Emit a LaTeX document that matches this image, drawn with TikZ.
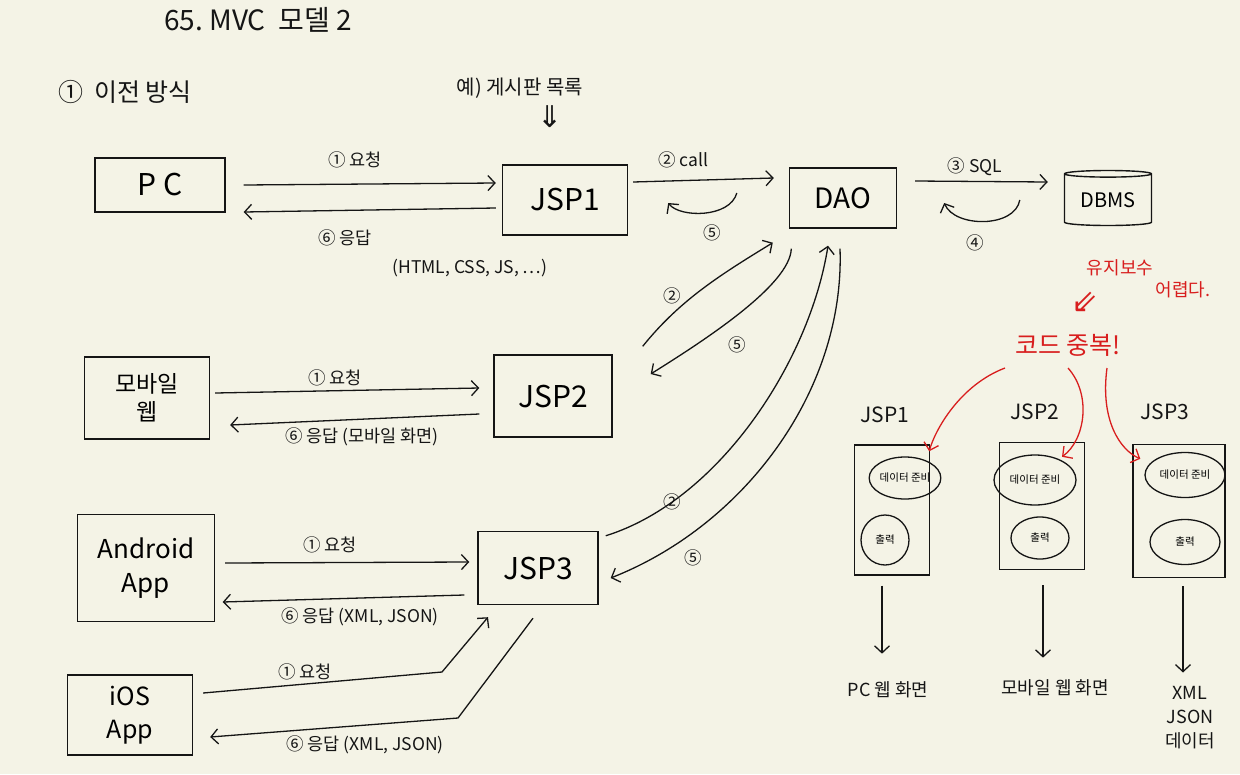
\documentclass[tikz,border=0pt]{standalone}
\usepackage{fontspec}
\setmainfont{Noto Sans CJK KR}
\newfontfamily\symf{DejaVu Sans}
\usetikzlibrary{arrows.meta,calc,shapes.geometric}
\definecolor{paper}{HTML}{F4F3E6}
\definecolor{ink}{HTML}{151515}
\definecolor{redc}{HTML}{D81E1E}
\newcommand\fs[2]{\fontsize{#1}{#2}\selectfont}
\tikzset{
  box/.style={draw=ink, line width=1.4pt, inner sep=0pt, align=center},
  oval/.style={draw=ink, line width=1.3pt, ellipse, inner sep=0pt, font=\fs{10.5}{13}},
  arr/.style={-{Straight Barb[length=7pt,width=15pt,line width=1.3pt]}, line width=1.3pt, draw=ink},
  rarr/.style={arr, draw=redc},
  lbl/.style={font=\fs{17.5}{21}, text=ink, inner sep=0pt},
  rlbl/.style={text=redc, inner sep=0pt},
}
\begin{document}
\begin{tikzpicture}[x=1pt,y=-1pt]
\fill[paper] (0,0) rectangle (1240,774);
\useasboundingbox (0,0) rectangle (1240,774);

% titles
\node[lbl, font=\fs{28}{32}] (title) at (258,20) {65.\ MVC\ \ 모델 2};
\node[lbl, font=\fs{25}{30}] (sec) at (125,92) {①\ \ 이전 방식};
\node[lbl, font=\fs{20}{24}] (ex) at (520,88) {예)\ 게시판 목록};
\node[lbl, font=\symf\fs{30}{32}] (dar) at (550,117) {⇓};

% left column boxes
\node[box, minimum width=130pt, minimum height=54pt, font=\fs{30}{34}] (pc) at (160,185) {P C};
\node[box, minimum width=125pt, minimum height=70pt, font=\fs{30}{34}] (jsp1) at (565,200) {JSP1};
\node[box, minimum width=107pt, minimum height=60pt, font=\fs{28}{32}] (dao) at (843,198) {DAO};
\node[box, shape=cylinder, shape border rotate=90, aspect=0.12, minimum width=87pt, minimum height=55pt, font=\fs{20}{24}] (dbms) at (1108,200) {DBMS};
\node[box, minimum width=125pt, minimum height=82pt, font=\fs{23}{28}] (mob) at (147,398) {모바일\\웹};
\node[box, minimum width=118pt, minimum height=82pt, font=\fs{30}{34}] (jsp2) at (553,396) {JSP2};
\node[box, minimum width=137pt, minimum height=107pt, font=\fs{26}{34}] (andr) at (146,568) {Android\\App};
\node[box, minimum width=120pt, minimum height=73pt, font=\fs{30}{34}] (jsp3) at (538,568) {JSP3};
\node[box, minimum width=125pt, minimum height=80pt, font=\fs{25}{33}] (ios) at (130,715) {iOS\\App};

% PC <-> JSP1
\draw[arr] ($(pc.east)+(18,0)$) -- ($(jsp1.west)+(-6,-17)$);
\draw[arr] ($(jsp1.west)+(-6,8)$) -- ($(pc.east)+(18,27)$);
\node[lbl] (l1) at (355,160) {① 요청};
\node[lbl] (l2) at (345,238) {⑥ 응답};
\node[lbl] (l3) at (470,268) {(HTML, CSS, JS, …)};

% JSP1 <-> DAO
\draw[arr] ($(jsp1.east)+(5,-18)$) -- ($(dao.west)+(-15,-20)$);
\draw[arr] ($(dao.west)+(-52,-5)$) .. controls (730,218) and (680,218) .. ($(jsp1.east)+(40,3)$);
\node[lbl] (l4) at (683,160) {② call};
\node[lbl] (l5) at (712,233) {⑤};

% DAO <-> DBMS
\draw[arr] ($(dao.east)+(18,-17)$) -- ($(dbms.west)+(-16,-18)$);
\draw[arr] ($(dbms.west)+(-44,0)$) .. controls (1015,228) and (955,228) .. ($(dao.east)+(47,5)$);
\node[lbl] (l6) at (975,167) {③ SQL};
\node[lbl] (l7) at (975,243) {④};

% mobile <-> JSP2
\draw[arr] ($(mob.east)+(5,-5)$) -- ($(jsp2.west)+(-14,-8)$);
\draw[arr] ($(jsp2.west)+(-14,18)$) -- ($(mob.east)+(20,27)$);
\node[lbl] (l8) at (335,378) {① 요청};
\node[lbl] (l9) at (362,437) {⑥ 응답 (모바일 화면)};

% JSP2 <-> DAO
\draw[arr] ($(jsp2.north east)+(30,-8)$) .. controls (680,300) and (720,275) .. ($(dao.south west)+(-16,14)$);
\draw[arr] ($(dao.south west)+(2.5,20)$) .. controls (790,285) and (705,340) .. ($(jsp2.east)+(38,-22)$);
\node[lbl] (l10) at (672,296) {②};
\node[lbl] (l11) at (737,345) {⑤};

% Android <-> JSP3
\draw[arr] ($(andr.east)+(10,-5)$) -- ($(jsp3.west)+(-8,-6)$);
\draw[arr] ($(jsp3.west)+(-13,27)$) -- ($(andr.east)+(7.5,34)$);
\node[lbl] (l12) at (330,545) {① 요청};
\node[lbl] (l13) at (360,617) {⑥ 응답 (XML, JSON)};

% iOS <-> JSP3
\draw[arr] ($(ios.east)+(10,-22)$) -- (442,672) -- ($(jsp3.south)+(-50,12)$);
\draw[arr] ($(jsp3.south)+(-5,13)$) -- (458,718) -- ($(ios.east)+(17,22)$);
\node[lbl] (l14) at (305,672) {① 요청};
\node[lbl] (l15) at (365,745) {⑥ 응답 (XML, JSON)};

% JSP3 <-> DAO
\draw[arr] ($(jsp3.north east)+(7,5)$) .. controls (720,500) and (810,360) .. ($(dao.south)+(-15,17)$);
\draw[arr] ($(dao.south)+(-3,20)$) .. controls (845,390) and (745,525) .. ($(jsp3.east)+(12,10)$);
\node[lbl] (l16) at (672,502) {②};
\node[lbl] (l17) at (693,558) {⑤};

% red annotations
\node[rlbl, font=\fs{18}{21}] (r1) at (1120,268) {유지보수};
\node[rlbl, font=\fs{18}{21}] (r2) at (1183,290) {어렵다.};
\node[rlbl, font=\symf\fs{32}{34}] (r3) at (1085,302) {⇙};
\node[rlbl, font=\fs{25}{29}] (kd) at (1068,345) {코드 중복!};

% right side JSP boxes
\node[lbl, font=\fs{21}{25}] (t1) at (885,415) {JSP1};
\node[lbl, font=\fs{21}{25}] (t2) at (1035,412) {JSP2};
\node[lbl, font=\fs{21}{25}] (t3) at (1165,412) {JSP3};
\node[box, minimum width=75pt, minimum height=130pt] (b1) at (892,510) {};
\node[box, minimum width=85pt, minimum height=127pt] (b2) at (1042,506) {};
\node[box, minimum width=92pt, minimum height=133pt] (b3) at (1179,511) {};
\node[oval, minimum width=70pt, minimum height=42pt] (e1a) at (905,478) {데이터 준비};
\node[oval, minimum width=48pt, minimum height=50pt] (e1b) at (885,540) {출력};
\node[oval, minimum width=82pt, minimum height=50pt] (e2a) at (1035,480) {데이터 준비};
\node[oval, minimum width=58pt, minimum height=42pt] (e2b) at (1040,538) {출력};
\node[oval, minimum width=80pt, minimum height=45pt] (e3a) at (1185,475) {데이터 준비};
\node[oval, minimum width=70pt, minimum height=45pt] (e3b) at (1185,542) {출력};

\draw[rarr] ($(kd.center)+(-63,23)$) .. controls (960,385) and (935,430) .. ($(b1.north east)+(-1,7)$);
\draw[rarr] ($(kd.center)+(0,23)$) .. controls (1092,395) and (1085,440) .. ($(b2.north)+(20,15)$);
\draw[rarr] ($(kd.center)+(39,23)$) .. controls (1100,420) and (1120,450) .. ($(b3.north west)+(8,15)$);

% outputs
\node[lbl, font=\fs{18}{21}] (o1) at (888,690) {PC 웹 화면};
\node[lbl, font=\fs{18}{21}] (o2) at (1055,688) {모바일 웹 화면};
\node[lbl, font=\fs{18}{24}, align=center] (o3) at (1190,718) {XML\\JSON\\데이터};
\draw[arr] ($(b1.south)+(-10,10)$) -- ($(o1.north)+(-6,-28)$);
\draw[arr] ($(b2.south)+(1,15)$) -- ($(o2.north)+(-12,-22)$);
\draw[arr] ($(b3.south)+(4,8)$) -- ($(o3.north)+(-7,-14)$);
\end{tikzpicture}
\end{document}
